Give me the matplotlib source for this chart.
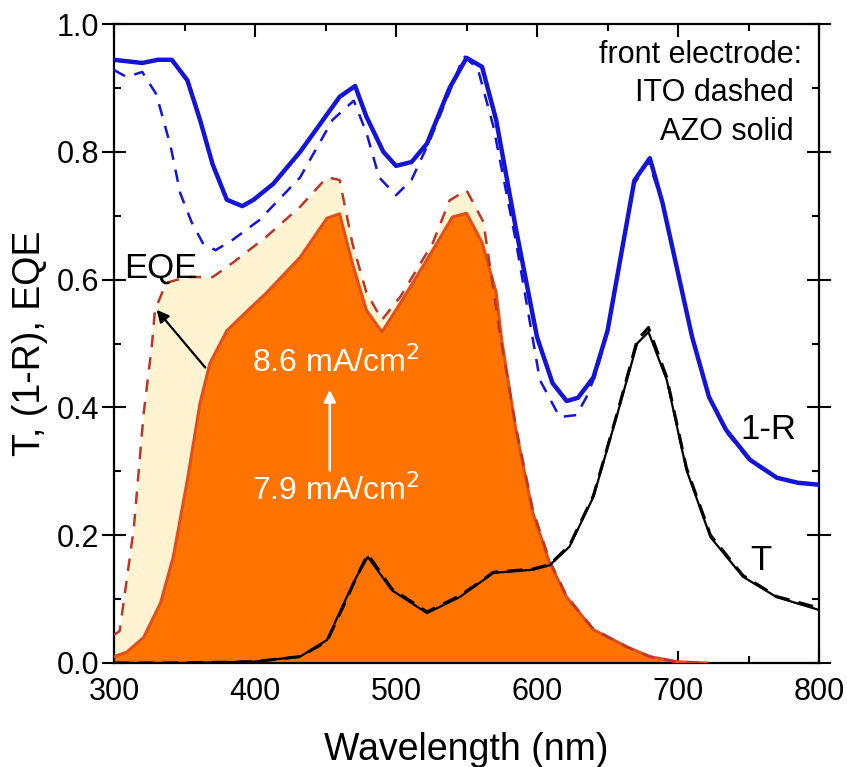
import matplotlib
matplotlib.use("Agg")
import matplotlib.pyplot as plt

# 1-R, AZO (solid) and ITO (dashed)
lam_r_azo = [300, 320, 331, 341, 352, 361, 370, 380, 391, 399, 413, 432, 460, 471, 479, 491, 500, 511,
             522, 538, 550, 561, 571, 585, 600, 611, 621, 629, 640, 650, 669, 680, 689, 700, 710, 722,
             734, 751, 770, 785, 800]
r_azo = [0.944, 0.939, 0.944, 0.944, 0.912, 0.85, 0.78, 0.725, 0.715, 0.725, 0.75, 0.80, 0.886, 0.903,
         0.855, 0.80, 0.778, 0.784, 0.813, 0.90, 0.947, 0.933, 0.85, 0.68, 0.51, 0.438, 0.41, 0.415,
         0.447, 0.52, 0.755, 0.79, 0.72, 0.61, 0.51, 0.416, 0.365, 0.318, 0.29, 0.282, 0.279]

lam_r_ito = [300, 309, 320, 330, 340, 347, 355, 363, 372, 384, 403, 432, 455, 470, 479, 488, 500, 511,
             524, 540, 548, 558, 569, 585, 602, 616, 628, 635, 642, 650, 669, 679, 689, 700, 710, 722,
             734, 751, 770, 785, 800]
r_ito = [0.928, 0.917, 0.925, 0.89, 0.81, 0.735, 0.69, 0.657, 0.646, 0.662, 0.693, 0.76, 0.85, 0.88,
         0.83, 0.76, 0.732, 0.756, 0.818, 0.905, 0.95, 0.93, 0.84, 0.66, 0.443, 0.385, 0.388, 0.416,
         0.454, 0.52, 0.75, 0.785, 0.72, 0.61, 0.51, 0.416, 0.362, 0.316, 0.29, 0.282, 0.28]

# EQE
lam_eqe_azo = [300, 309, 321, 333, 342, 352, 361, 368, 380, 395, 408, 432, 451, 460, 469, 479, 490,
               503, 526, 540, 550, 561, 571, 575, 585, 597, 609, 621, 640, 664, 680, 699, 720]
eqe_azo = [0.01, 0.017, 0.04, 0.094, 0.166, 0.286, 0.407, 0.469, 0.52, 0.552, 0.579, 0.635, 0.696,
           0.703, 0.626, 0.552, 0.518, 0.563, 0.646, 0.698, 0.704, 0.658, 0.58, 0.505, 0.365, 0.235,
           0.156, 0.103, 0.052, 0.025, 0.01, 0.002, 0.0]

lam_eqe_ito = [300, 304, 314, 321, 327, 329, 337, 352, 370, 384, 408, 432, 451, 460, 469, 479, 490,
               503, 526, 538, 550, 562, 574, 585, 597, 609, 621, 640, 664, 680, 699, 720]
eqe_ito = [0.044, 0.05, 0.21, 0.39, 0.50, 0.552, 0.595, 0.604, 0.604, 0.626, 0.667, 0.714, 0.76, 0.756,
           0.657, 0.58, 0.537, 0.573, 0.657, 0.724, 0.74, 0.69, 0.51, 0.37, 0.24, 0.16, 0.105, 0.053,
           0.025, 0.01, 0.002, 0.0]

# Transmission T
lam_t = [300, 349, 399, 432, 451, 465, 472, 480, 497, 522, 545, 559, 569, 597, 609, 623, 640, 657,
         671, 679, 692, 706, 723, 746, 770, 800]
t_azo = [0.0, 0.0, 0.002, 0.01, 0.036, 0.103, 0.135, 0.166, 0.114, 0.078, 0.103, 0.125, 0.141, 0.146,
         0.153, 0.182, 0.26, 0.39, 0.50, 0.518, 0.443, 0.302, 0.197, 0.135, 0.103, 0.083]
t_ito = [0.0, 0.0, 0.002, 0.01, 0.034, 0.1, 0.135, 0.17, 0.116, 0.08, 0.105, 0.126, 0.142, 0.147,
         0.154, 0.184, 0.262, 0.392, 0.505, 0.525, 0.447, 0.305, 0.2, 0.137, 0.104, 0.086]

plt.rcParams["font.family"] = ["Liberation Sans", "DejaVu Sans"]

fig = plt.figure(figsize=(8.47, 7.67), dpi=100)
ax = fig.add_axes([0.1346, 0.1356, 0.8324, 0.8331])

blue = "#1414d8"
ax.fill_between(lam_eqe_ito, 0, eqe_ito, color="#fff3d2", lw=0, zorder=1)
ax.fill_between(lam_eqe_azo, 0, eqe_azo, color="#ff7300", lw=0, zorder=2)
ax.plot(lam_eqe_azo, eqe_azo, color="#e2501a", lw=2.2, zorder=3)
ax.plot(lam_eqe_ito, eqe_ito, color="#b8382a", lw=1.8, ls=(0, (5, 4)), zorder=3)

ax.plot(lam_t, t_ito, color="black", lw=2.2, ls=(0, (5, 3)), zorder=4)
ax.plot(lam_t, t_azo, color="black", lw=1.6, zorder=4)

ax.plot(lam_r_ito, r_ito, color=blue, lw=1.8, ls=(0, (5, 4)), zorder=5)
ax.plot(lam_r_azo, r_azo, color=blue, lw=3.2, zorder=5)

ax.set_xlim(300, 800)
ax.set_ylim(0, 1.0)
ax.set_xticks([300, 400, 500, 600, 700, 800])
ax.set_xticks([350, 450, 550, 650, 750], minor=True)
ax.set_yticks([0.0, 0.2, 0.4, 0.6, 0.8, 1.0])
ax.set_yticks([0.1, 0.3, 0.5, 0.7, 0.9], minor=True)
ax.set_yticklabels(["0.0", "0.2", "0.4", "0.6", "0.8", "1.0"])

ax.tick_params(which="both", direction="in", top=True, right=True, width=1.5, labelsize=22)
ax.tick_params(which="major", length=9, pad=10)
ax.tick_params(which="minor", length=5)
ax.tick_params(axis="y", which="major", direction="inout", length=17, pad=2)
for s in ax.spines.values():
    s.set_linewidth(1.6)

ax.set_xlabel("Wavelength (nm)", fontsize=27, labelpad=18)
ax.set_ylabel("T, (1-R), EQE", fontsize=27, labelpad=6)

ax.text(307, 0.618, "EQE", fontsize=25, ha="left", va="center", zorder=6)
ax.annotate("", xy=(329, 0.556), xytext=(366, 0.459),
            arrowprops=dict(arrowstyle="-|>", color="black", lw=1.6, mutation_scale=18), zorder=6)

ax.text(457, 0.47, "8.6 mA/cm$^2$", color="white", fontsize=23, ha="center", va="center", zorder=6)
ax.text(457, 0.27, "7.9 mA/cm$^2$", color="white", fontsize=23, ha="center", va="center", zorder=6)
ax.annotate("", xy=(453, 0.432), xytext=(453, 0.297),
            arrowprops=dict(arrowstyle="-|>", color="white", lw=1.8, mutation_scale=18), zorder=6)

ax.text(788, 0.951, "front electrode:", fontsize=22, ha="right", va="center", zorder=6)
ax.text(782, 0.892, "ITO dashed", fontsize=22, ha="right", va="center", zorder=6)
ax.text(782, 0.831, "AZO solid", fontsize=22, ha="right", va="center", zorder=6)
ax.text(764, 0.365, "1-R", fontsize=25, ha="center", va="center", zorder=6)
ax.text(759, 0.161, "T", fontsize=25, ha="center", va="center", zorder=6)

fig.savefig("out.png", dpi=100)
